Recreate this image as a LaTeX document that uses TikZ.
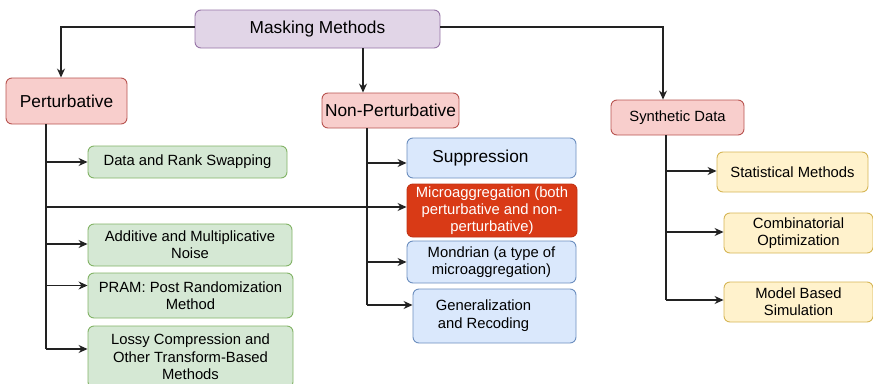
\documentclass[tikz,border=0pt]{standalone}
\usepackage{fontspec}
\setmainfont{Liberation Sans}
\usetikzlibrary{arrows.meta}

\definecolor{purpleF}{HTML}{E1D5E7}\definecolor{purpleD}{HTML}{9673A6}
\definecolor{redF}{HTML}{F8CECC}\definecolor{redD}{HTML}{B85450}
\definecolor{greenF}{HTML}{D5E8D4}\definecolor{greenD}{HTML}{82B366}
\definecolor{blueF}{HTML}{DAE8FC}\definecolor{blueD}{HTML}{6C8EBF}
\definecolor{yellowF}{HTML}{FFF2CC}\definecolor{yellowD}{HTML}{D6B656}
\definecolor{hotF}{HTML}{D93A16}\definecolor{hotD}{HTML}{C23314}
\definecolor{wire}{HTML}{222222}

\tikzset{
  box/.style={draw, rounded corners=6pt, line width=0.9pt, align=center,
    inner sep=0pt, font=\fontsize{14.8}{17.3}\selectfont},
  bigtxt/.style={font=\fontsize{17.3}{20}\selectfont},
  purplebox/.style={box, fill=purpleF, draw=purpleD},
  redbox/.style={box, fill=redF, draw=redD},
  greenbox/.style={box, fill=greenF, draw=greenD},
  bluebox/.style={box, fill=blueF, draw=blueD},
  yellowbox/.style={box, fill=yellowF, draw=yellowD},
  hotbox/.style={box, fill=hotF, draw=hotD, text=white},
  wireline/.style={draw=wire, line width=1.1pt},
  arr/.style={wireline, -{Stealth[length=9pt,width=8pt]}},
}

\begin{document}
\begin{tikzpicture}[x=1pt,y=-1pt]
\useasboundingbox (0,0) rectangle (873,383);
\begin{scope}
\clip (0,0) rectangle (873,383);

% top level
\node[purplebox, bigtxt, minimum width=245pt, minimum height=38pt] (mm) at (317.5,29) {Masking Methods};

% categories
\node[redbox, bigtxt, minimum width=121pt, minimum height=46pt] (pert) at (66.5,101) {Perturbative};
\node[redbox, bigtxt, minimum width=137pt, minimum height=35pt] (nonp) at (390.5,110.5) {Non-Perturbative};
\node[redbox, minimum width=133pt, minimum height=35pt] (synth) at (677.5,117.5) {Synthetic Data};

% perturbative methods
\node[greenbox, minimum width=199pt, minimum height=32pt] (drs) at (187.5,162) {Data and Rank Swapping};
\node[greenbox, minimum width=204pt, minimum height=42pt] (amn) at (190,245) {Additive and Multiplicative\\Noise};
\node[greenbox, minimum width=205pt, minimum height=45pt] (pram) at (190.5,295.5) {PRAM: Post Randomization\\Method};
\node[greenbox, minimum width=205pt, minimum height=62pt] (lossy) at (190.5,357) {Lossy Compression and\\Other Transform-Based\\Methods};

% non-perturbative methods
\node[bluebox, bigtxt, minimum width=169pt, minimum height=40pt] (supp) at (491.5,158) {\hspace*{-22pt}Suppression};
\node[hotbox, minimum width=170pt, minimum height=53pt] (micro) at (492,210.5) {Microaggregation (both\\perturbative and non-\\perturbative)};
\node[bluebox, minimum width=169pt, minimum height=42pt] (mond) at (491.5,262) {Mondrian (a type of\\microaggregation)};
\node[bluebox, minimum width=163pt, minimum height=54pt] (gen) at (494.5,316) {\hspace*{-22pt}\begin{tabular}{@{}c@{}}Generalization\\and Recoding\end{tabular}};

% synthetic data methods
\node[yellowbox, minimum width=151pt, minimum height=40pt] (stat) at (792.5,172) {Statistical Methods};
\node[yellowbox, minimum width=149pt, minimum height=40pt] (comb) at (798.5,233) {Combinatorial\\Optimization};
\node[yellowbox, minimum width=149pt, minimum height=40pt] (model) at (798.5,302) {Model Based\\Simulation};

% trunk positions
\coordinate (tp) at (46,0);
\coordinate (tn) at (367,0);
\coordinate (ts) at (666,0);
\coordinate (dl) at (61,0);
\coordinate (dm) at (363,0);
\coordinate (dr) at (663,0);

% top-level connectors
\draw[arr] ([yshift=2pt]mm.west) -| (pert.north -| dl);
\draw[arr] (mm.south -| dm) -- (nonp.north -| dm);
\draw[arr] ([yshift=2pt]mm.east) -| (synth.north -| dr);

% perturbative trunk
\draw[wireline] (pert.south -| tp) -- ([yshift=8pt]lossy.west -| tp);
\draw[arr] (drs.west -| tp) -- (drs.west);
\draw[arr] ([yshift=3.5pt]micro.west -| tp) -- ([yshift=3.5pt]micro.west);
\draw[arr] ([yshift=1pt]amn.west -| tp) -- ([yshift=1pt]amn.west);
\draw[arr] ([yshift=10pt]pram.west -| tp) -- ([yshift=10pt]pram.west);
\draw[arr] ([yshift=8pt]lossy.west -| tp) -- ([yshift=8pt]lossy.west);

% non-perturbative trunk
\draw[wireline] (nonp.south -| tn) -- ([yshift=11pt]gen.west -| tn);
\draw[arr] ([yshift=-5pt]supp.west -| tn) -- ([yshift=-5pt]supp.west);
\draw[arr] (mond.west -| tn) -- (mond.west);
\draw[arr] ([yshift=11pt]gen.west -| tn) -- ([yshift=11pt]gen.west);

% synthetic data trunk
\draw[wireline] (synth.south -| ts) -- ([yshift=2pt]model.west -| ts);
\draw[arr] ([yshift=1pt]stat.west -| ts) -- ([yshift=1pt]stat.west);
\draw[arr] ([yshift=1pt]comb.west -| ts) -- ([yshift=1pt]comb.west);
\draw[arr] ([yshift=2pt]model.west -| ts) -- ([yshift=2pt]model.west);
\end{scope}
\end{tikzpicture}
\end{document}
